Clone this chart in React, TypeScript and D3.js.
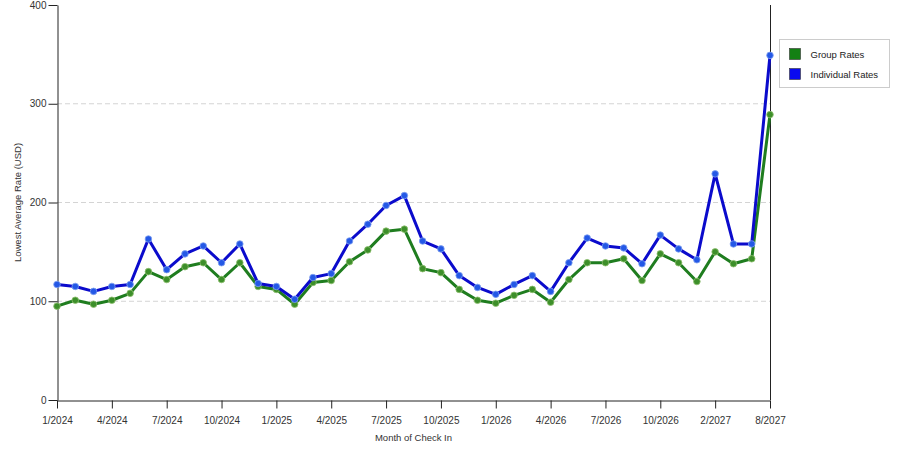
import React, { useRef, useEffect } from "react";
import * as d3 from "d3";

// x categories (month of check in); only every third one is labelled
const months: string[] = [
  "1/2024", "2/2024", "3/2024", "4/2024", "5/2024", "6/2024", "7/2024", "8/2024", "9/2024", "10/2024", "11/2024", "12/2024",
  "1/2025", "2/2025", "3/2025", "4/2025", "5/2025", "6/2025", "7/2025", "8/2025", "9/2025", "10/2025", "11/2025", "12/2025",
  "1/2026", "2/2026", "3/2026", "4/2026", "5/2026", "6/2026", "7/2026", "8/2026", "9/2026", "10/2026", "11/2026", "12/2026",
  "2/2027", "4/2027", "6/2027", "8/2027",
];

const groupRates: number[] = [
  95, 101, 97, 101, 108, 130, 122, 135, 139, 122, 139, 115,
  112, 97, 119, 121, 140, 152, 171, 173, 133, 129, 112, 101,
  98, 106, 112, 99, 122, 139, 139, 143, 121, 148, 139, 120,
  150, 138, 143, 289,
];

const individualRates: number[] = [
  117, 115, 110, 115, 117, 163, 132, 148, 156, 139, 158, 118,
  115, 102, 124, 128, 161, 178, 197, 207, 161, 153, 126, 114,
  107, 117, 126, 110, 139, 164, 156, 154, 138, 167, 153, 142,
  229, 158, 158, 349,
];

const yTicks: number[] = [0, 100, 200, 300, 400];
const gridTicks: number[] = [100, 200, 300];

const seriesList = [
  { name: "Group Rates", values: groupRates, line: "#1f7d1f", dot: "#3d8f2a", halo: "#8fbf6f", swatch: "#138013" },
  { name: "Individual Rates", values: individualRates, line: "#0b0bcc", dot: "#2458e6", halo: "#7fa0f0", swatch: "#0a0af0" },
];

const FONT = "'Liberation Sans', Arial, sans-serif";

const App: React.FC = () => {
  const svgRef = useRef<SVGSVGElement>(null);

  useEffect(() => {
    document.body.style.margin = "0";

    const width = 900;
    const height = 450;
    const left = 57, right = 770, top = 5, bottom = 400;

    const svg = d3.select(svgRef.current);
    svg.selectAll("*").remove();
    svg.attr("width", width).attr("height", height);
    svg.append("rect").attr("width", width).attr("height", height).attr("fill", "#fff");

    const x = d3.scalePoint<number>().domain(d3.range(months.length)).range([left, right]);
    const y = d3.scaleLinear().domain([0, 400]).range([bottom, top]);

    // dashed grid
    svg.append("g")
      .selectAll("line")
      .data(gridTicks)
      .enter()
      .append("line")
      .attr("x1", left)
      .attr("x2", right)
      .attr("y1", d => y(d))
      .attr("y2", d => y(d))
      .attr("stroke", "#d4d4d4")
      .attr("stroke-dasharray", "5,3");

    // right border of the plot
    svg.append("line")
      .attr("x1", right + 0.5).attr("x2", right + 0.5)
      .attr("y1", top).attr("y2", bottom)
      .attr("stroke", "#222");

    // y axis
    const yAxis = svg.append("g")
      .attr("transform", `translate(${left + 0.5},0)`)
      .call(d3.axisLeft(y).tickValues(yTicks).tickSize(9).tickPadding(2).tickSizeOuter(0));
    yAxis.select(".domain").attr("stroke", "#222");
    yAxis.selectAll(".tick line").attr("stroke", "#222");
    yAxis.selectAll(".tick text").attr("fill", "#333").style("font-family", FONT).style("font-size", "10px");

    // x axis
    const tickIdx = d3.range(0, months.length, 3);
    const xAxis = svg.append("g")
      .attr("transform", `translate(0,${bottom + 0.5})`)
      .call(d3.axisBottom(x).tickValues(tickIdx).tickFormat(i => months[i as number]).tickSize(8).tickPadding(8).tickSizeOuter(0));
    xAxis.select(".domain").attr("stroke", "#222");
    xAxis.selectAll(".tick line").attr("stroke", "#222");
    xAxis.selectAll(".tick text").attr("fill", "#333").style("font-family", FONT).style("font-size", "10px");

    // axis titles
    svg.append("text")
      .attr("x", (left + right) / 2)
      .attr("y", 441)
      .attr("text-anchor", "middle")
      .attr("fill", "#333")
      .style("font-family", FONT)
      .style("font-size", "9.5px")
      .text("Month of Check In");

    svg.append("text")
      .attr("transform", `translate(21,${(top + bottom) / 2}) rotate(-90)`)
      .attr("text-anchor", "middle")
      .attr("fill", "#333")
      .style("font-family", FONT)
      .style("font-size", "9.5px")
      .text("Lowest Average Rate (USD)");

    const line = d3.line<number>()
      .x((_, i) => x(i) as number)
      .y(d => y(d));

    seriesList.forEach(s => {
      svg.append("path")
        .datum(s.values)
        .attr("fill", "none")
        .attr("stroke", s.line)
        .attr("stroke-width", 3)
        .attr("stroke-linejoin", "round")
        .attr("d", line);

      svg.append("g")
        .selectAll("circle")
        .data(s.values)
        .enter()
        .append("circle")
        .attr("cx", (_, i) => x(i) as number)
        .attr("cy", d => y(d))
        .attr("r", 3.3)
        .attr("fill", s.dot)
        .attr("stroke", s.halo)
        .attr("stroke-opacity", 0.8)
        .attr("stroke-width", 1);
    });

    // legend
    const legend = svg.append("g").attr("transform", "translate(779.5,39.5)");
    legend.append("rect")
      .attr("width", 110)
      .attr("height", 48)
      .attr("fill", "#fff")
      .attr("stroke", "#cccccc");

    seriesList.forEach((s, i) => {
      const row = legend.append("g").attr("transform", `translate(10,${9 + i * 20})`);
      row.append("rect")
        .attr("width", 11)
        .attr("height", 11)
        .attr("fill", s.swatch)
        .attr("stroke", "#333")
        .attr("stroke-width", 0.6);
      row.append("text")
        .attr("x", 21)
        .attr("y", 9)
        .attr("fill", "#222")
        .style("font-family", FONT)
        .style("font-size", "9.5px")
        .text(s.name);
    });
  }, []);

  return <svg ref={svgRef} width={900} height={450}></svg>;
};

export default App;
